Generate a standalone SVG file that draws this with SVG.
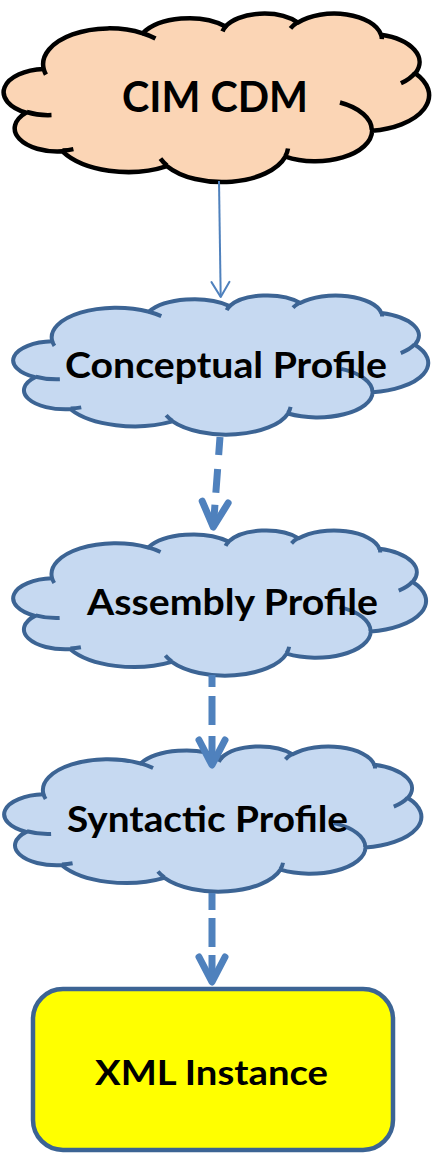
<svg xmlns="http://www.w3.org/2000/svg" xmlns:xlink="http://www.w3.org/1999/xlink" width="432" height="1153" viewBox="0 0 432 1153">
  <style>
    .shape { vector-effect: non-scaling-stroke; stroke-linejoin: round; }
    .crease { fill: none; vector-effect: non-scaling-stroke; stroke-linecap: butt; }
    .cloud-blue { fill: #c6d9f1; stroke: #3c6494; stroke-width: 4; }
    .cloud-orange { fill: #fbd5b5; stroke: #000000; stroke-width: 4.5; }
    .label { font-family: Lato, "Open Sans", "Liberation Sans", sans-serif; font-weight: bold; fill: #000000; text-anchor: middle; }
    .thin { fill: none; stroke: #4f81bd; stroke-width: 2; }
    .thick { fill: none; stroke: #4f81bd; stroke-width: 7; stroke-linecap: butt; }
    .head { fill: none; stroke: #4f81bd; stroke-linecap: round; stroke-linejoin: round; }
  </style>
  <defs>
    <g id="cloud">
      <path class="shape" d="M39,143.7 A67.53,91.9 0 0 1 140.06,52.03 A53.33,72.67 0 0 1 224.58,34.34 A43.65,59.45 0 0 1 298.35,24.82 A48.57,65.95 0 0 1 383.21,55.77 A53.33,72.73 0 0 1 418.22,154.61 A67.75,92.2 0 0 1 374.08,302.04 A57.85,78.67 0 0 1 285.59,368.14 A67.52,92.15 0 0 1 164.84,392.67 A77.2,105.43 0 0 1 58.07,354.72 A43.6,59.18 0 0 1 21.14,255.53 A43.45,59.45 0 0 1 39,143.7 Z"/>
      <path class="crease" d="M46.93,261.77 A43.45,59.45 0 0 1 21.69,253.87 M69.28,348.99 A43.6,59.18 0 0 1 58.19,352.81 M164.78,390.9 A67.52,92.15 0 0 1 158.1,373.48 M288.27,347.51 A67.52,92.15 0 0 1 285.61,366.6 M341.29,229.54 A57.85,78.67 0 0 1 373.81,300.9 M417.98,153.54 A53.33,72.73 0 0 1 403.5,180.3 M383.24,54.26 A48.57,65.95 0 0 1 384.0,66.9 M290.78,39.52 A48.57,65.95 0 0 1 298.2,23.4 M221.41,47.2 A43.65,59.45 0 0 1 225.0,33.3 M140.0,51.92 A67.53,91.9 0 0 1 153.03,65.44 M41.27,157.89 A67.53,91.9 0 0 1 39.0,143.71"/>
    </g>
    <marker id="openArrow" markerUnits="userSpaceOnUse" markerWidth="20" markerHeight="20" refX="15" refY="9" orient="auto" overflow="visible">
      <path class="head" stroke-width="2" d="M0,0 L15,9 L0,18"/>
    </marker>
    <marker id="chevron" markerUnits="userSpaceOnUse" markerWidth="40" markerHeight="40" refX="30" refY="20" orient="auto" overflow="visible">
      <path class="head" stroke-width="7" d="M5,7 L30,20 L5,33"/>
    </marker>
  </defs>

  <g id="node-cim-cdm">
    <use xlink:href="#cloud" href="#cloud" class="cloud-orange" transform="translate(5.5,13) scale(0.980,0.390)"/>
    <text class="label" x="215" y="112" font-size="42" textLength="186" lengthAdjust="spacingAndGlyphs">CIM CDM</text>
  </g>

  <g id="node-conceptual-profile">
    <use xlink:href="#cloud" href="#cloud" class="cloud-blue" transform="translate(15,295) scale(0.956,0.322)"/>
    <text class="label" x="226" y="378" font-size="36" textLength="322" lengthAdjust="spacingAndGlyphs">Conceptual Profile</text>
  </g>

  <g id="node-assembly-profile">
    <use xlink:href="#cloud" href="#cloud" class="cloud-blue" transform="translate(15,530) scale(0.951,0.336)"/>
    <text class="label" x="232.5" y="615" font-size="36" textLength="291" lengthAdjust="spacingAndGlyphs">Assembly Profile</text>
  </g>

  <g id="node-syntactic-profile">
    <use xlink:href="#cloud" href="#cloud" class="cloud-blue" transform="translate(6,746) scale(0.961,0.336)"/>
    <text class="label" x="207.5" y="832" font-size="36" textLength="281" lengthAdjust="spacingAndGlyphs">Syntactic Profile</text>
  </g>

  <g id="node-xml-instance">
    <rect x="33" y="989" width="360" height="161" rx="30" ry="30" fill="#ffff00" stroke="#3c6494" stroke-width="4.5"/>
    <text class="label" x="211.5" y="1085" font-size="35" textLength="233" lengthAdjust="spacingAndGlyphs">XML Instance</text>
  </g>

  <g id="connectors">
    <path class="thin" d="M219,181 L220.7,297" marker-end="url(#openArrow)"/>
    <path class="thick" d="M220,437 L213.3,527" stroke-dasharray="18 14 24 12 40" marker-end="url(#chevron)"/>
    <path class="thick" d="M212,675 L212,765" stroke-dasharray="12 9 29 11 40" marker-end="url(#chevron)"/>
    <path class="thick" d="M212,893 L212,982" stroke-dasharray="17 8 29 8 40" marker-end="url(#chevron)"/>
  </g>
</svg>
